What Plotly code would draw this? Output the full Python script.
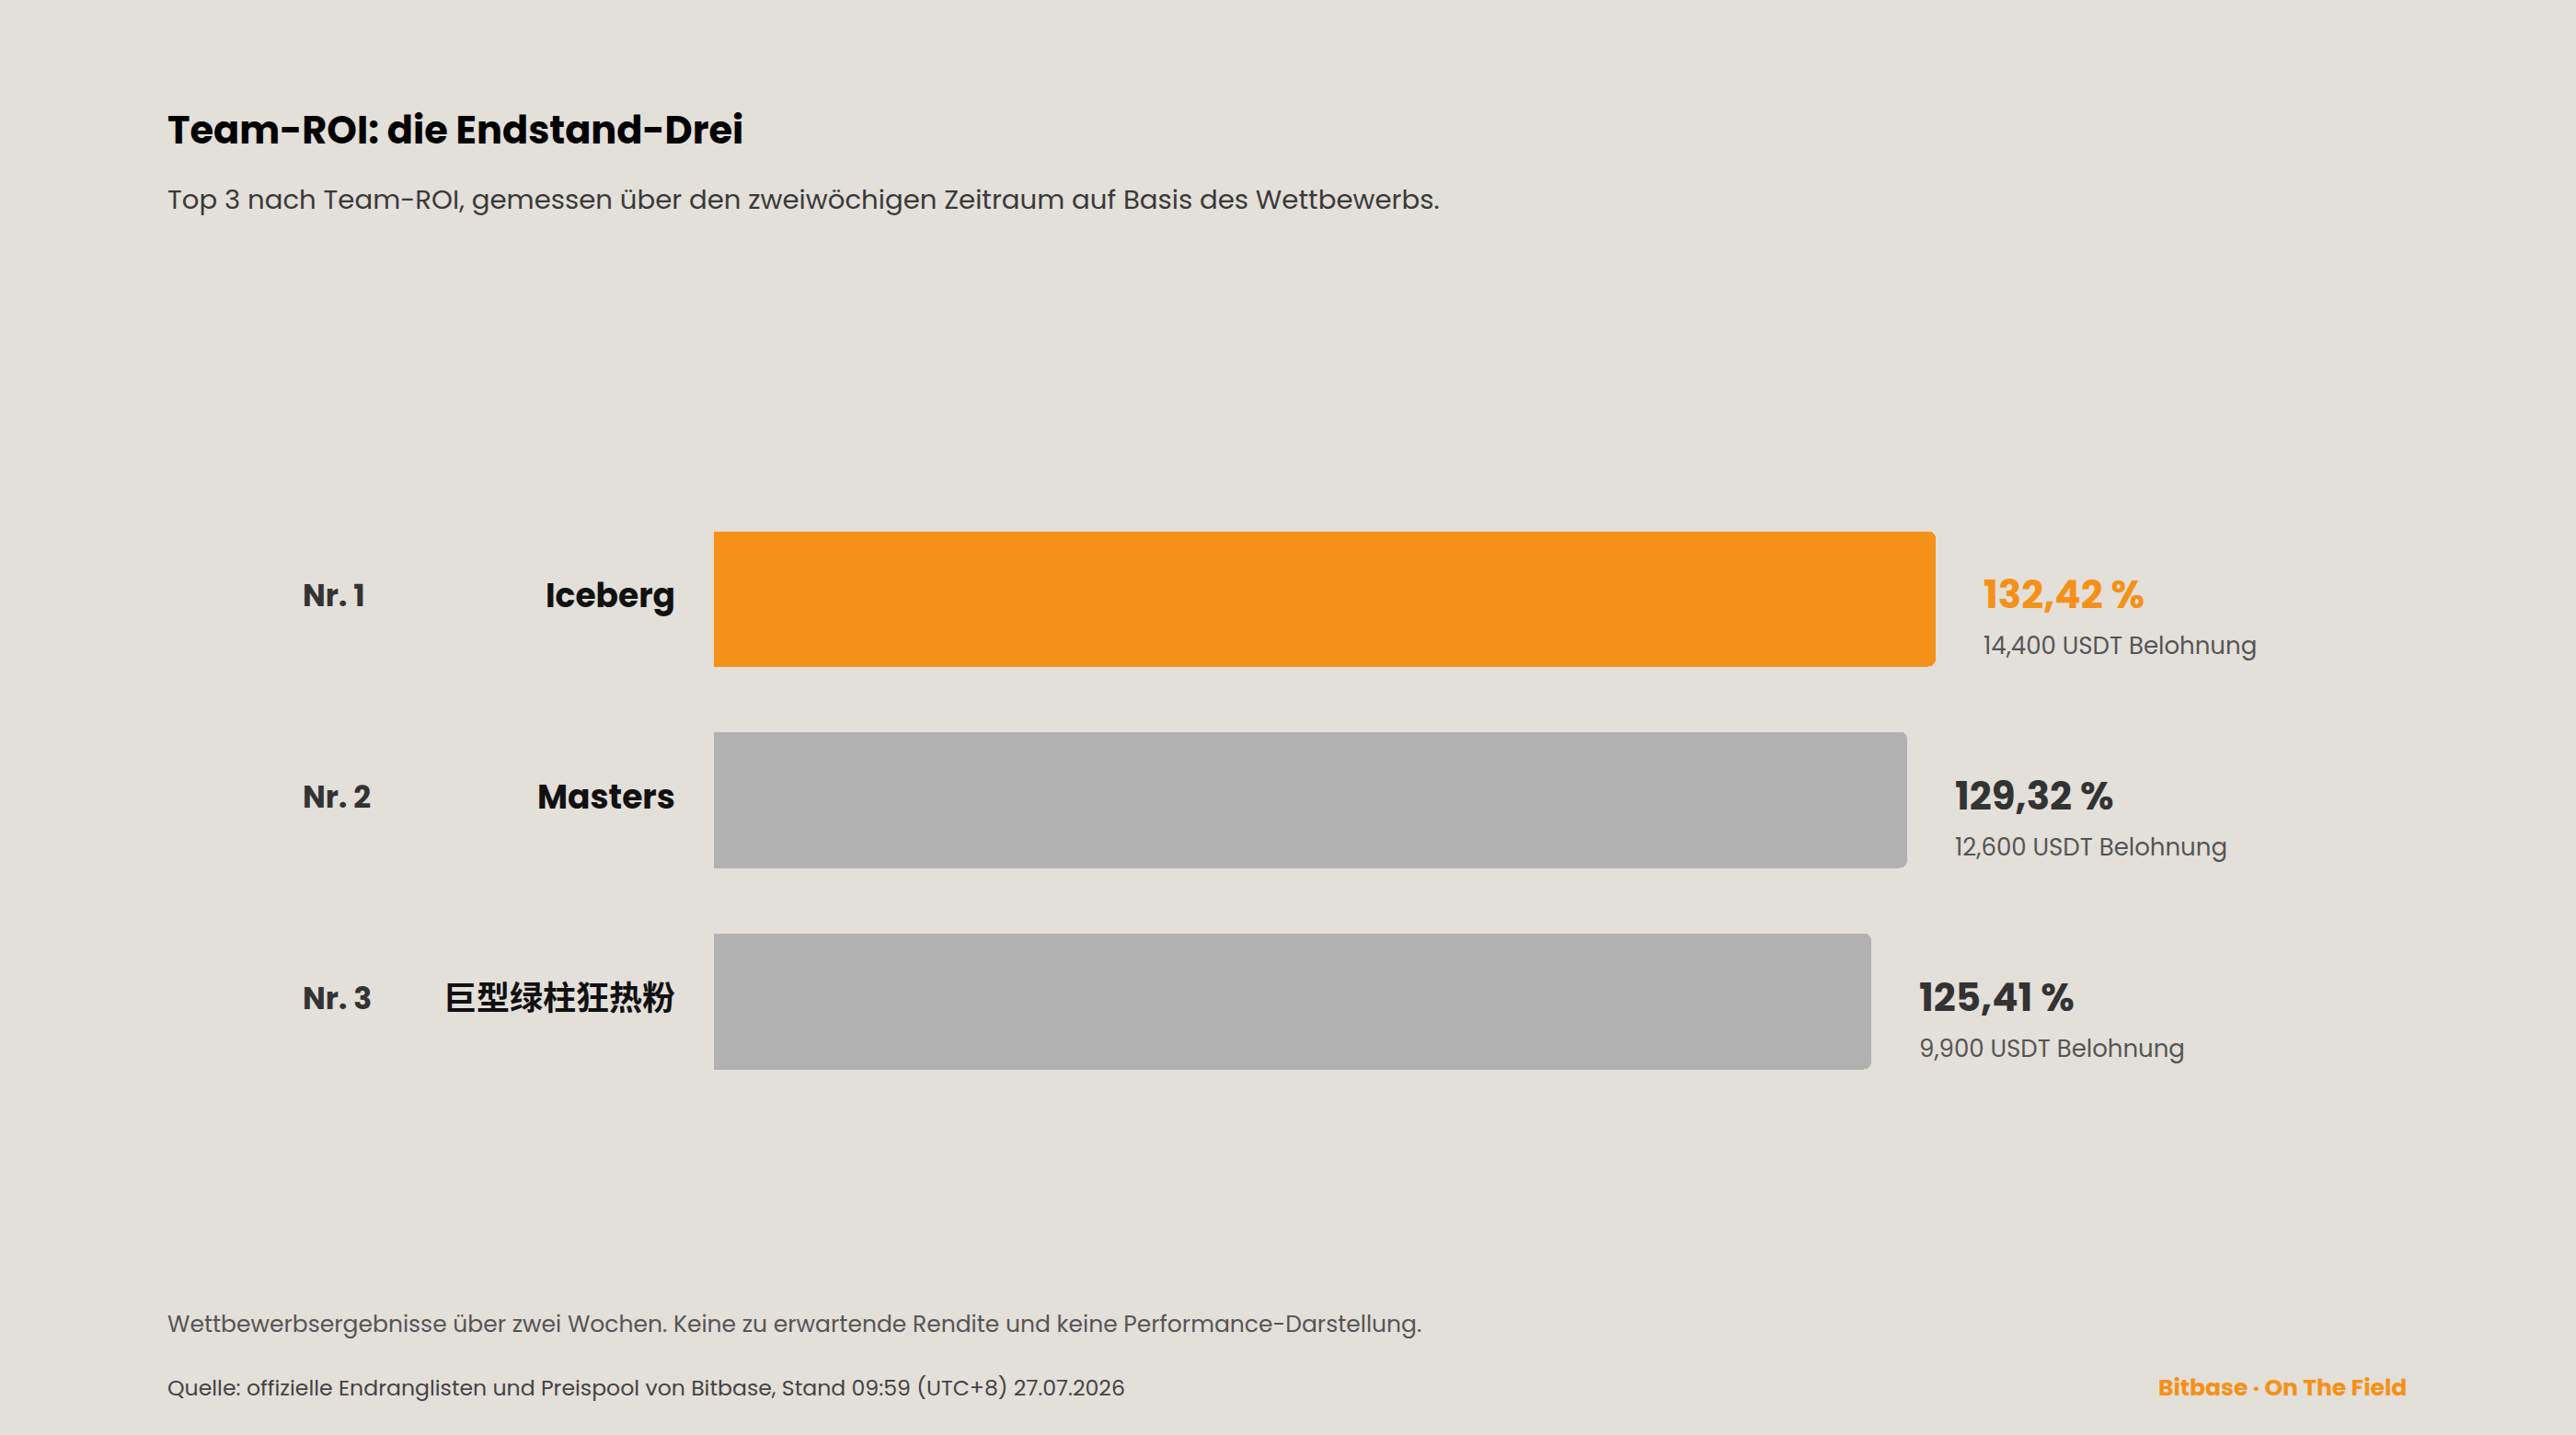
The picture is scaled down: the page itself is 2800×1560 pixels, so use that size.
import plotly.graph_objects as go

ranks = ["Nr. 1", "Nr. 2", "Nr. 3"]
teams = ["Iceberg", "Masters", "巨型绿柱狂热粉"]
roi = [132.42, 129.32, 125.41]
roi_labels = ["132,42 %", "129,32 %", "125,41 %"]
rewards = ["14,400 USDT Belohnung", "12,600 USDT Belohnung", "9,900 USDT Belohnung"]

W, H = 2800, 1560
BG = "#E3DFD9"
ORANGE = "#F59118"
GRAY = "#B1B1B1"
FONT = "Poppins, Inter, 'Noto Sans CJK SC', sans-serif"

def px(x):
    return x / W

def py(y):
    return 1 - y / H

x_max = 200
plot_left = 776
px_per_unit = 10.03
plot_right = plot_left + x_max * px_per_unit

colors = [ORANGE if i == 0 else GRAY for i in range(len(teams))]
ypos = list(range(len(teams)))

fig = go.Figure()
fig.add_trace(go.Bar(
    x=roi, y=ypos, orientation="h",
    marker=dict(color=colors, cornerradius=8, line=dict(width=0)),
    width=0.675, hoverinfo="skip",
))

annotations = []
for i in ypos:
    # rank
    annotations.append(dict(
        x=px(327), xref="paper", y=i, yref="y", text=ranks[i],
        xanchor="left", yanchor="middle", yshift=3, showarrow=False,
        font=dict(family=FONT, size=33, color="#333333", weight=700),
    ))
    # name
    annotations.append(dict(
        x=px(736), xref="paper", y=i, yref="y", text=teams[i],
        xanchor="right", yanchor="middle", yshift=3, showarrow=False,
        font=dict(family=FONT, size=36, color="#111111", weight=700),
    ))
    # value
    annotations.append(dict(
        x=roi[i], xref="x", y=i, yref="y", text=roi_labels[i],
        xanchor="left", yanchor="middle", xshift=50, yshift=4, showarrow=False,
        font=dict(family=FONT, size=42, color=ORANGE if i == 0 else "#333333", weight=700),
    ))
    # reward
    annotations.append(dict(
        x=roi[i], xref="x", y=i, yref="y", text=rewards[i],
        xanchor="left", yanchor="middle", xshift=50, yshift=-51, showarrow=False,
        font=dict(family=FONT, size=26, color="#555555"),
    ))

annotations += [
    dict(x=px(180), y=py(141), xref="paper", yref="paper", text="Team-ROI: die Endstand-Drei",
         xanchor="left", yanchor="middle", showarrow=False,
         font=dict(family=FONT, size=41.5, color="#000000", weight=700)),
    dict(x=px(180), y=py(217), xref="paper", yref="paper",
         text="Top 3 nach Team-ROI, gemessen über den zweiwöchigen Zeitraum auf Basis des Wettbewerbs.",
         xanchor="left", yanchor="middle", showarrow=False,
         font=dict(family=FONT, size=29.2, color="#3A3A3A")),
    dict(x=px(180), y=py(1439), xref="paper", yref="paper",
         text="Wettbewerbsergebnisse über zwei Wochen. Keine zu erwartende Rendite und keine Performance-Darstellung.",
         xanchor="left", yanchor="middle", showarrow=False,
         font=dict(family=FONT, size=25, color="#555555")),
    dict(x=px(180), y=py(1508), xref="paper", yref="paper",
         text="Quelle: offizielle Endranglisten und Preispool von Bitbase, Stand 09:59 (UTC+8) 27.07.2026",
         xanchor="left", yanchor="middle", showarrow=False,
         font=dict(family=FONT, size=23.6, color="#444444")),
    dict(x=px(2618), y=py(1508), xref="paper", yref="paper",
         text="Bitbase · On The Field",
         xanchor="right", yanchor="middle", showarrow=False,
         font=dict(family=FONT, size=25, color=ORANGE, weight=700)),
]

fig.update_layout(
    width=W, height=H,
    margin=dict(l=0, r=0, t=0, b=0),
    paper_bgcolor=BG, plot_bgcolor=BG,
    showlegend=False,
    xaxis=dict(range=[0, x_max], domain=[px(plot_left), px(plot_right)],
               visible=False, fixedrange=True),
    yaxis=dict(range=[2.5, -0.5], domain=[py(1198), py(541.5)],
               visible=False, fixedrange=True),
    annotations=annotations,
    bargap=0,
)

fig.write_html("out.html")
